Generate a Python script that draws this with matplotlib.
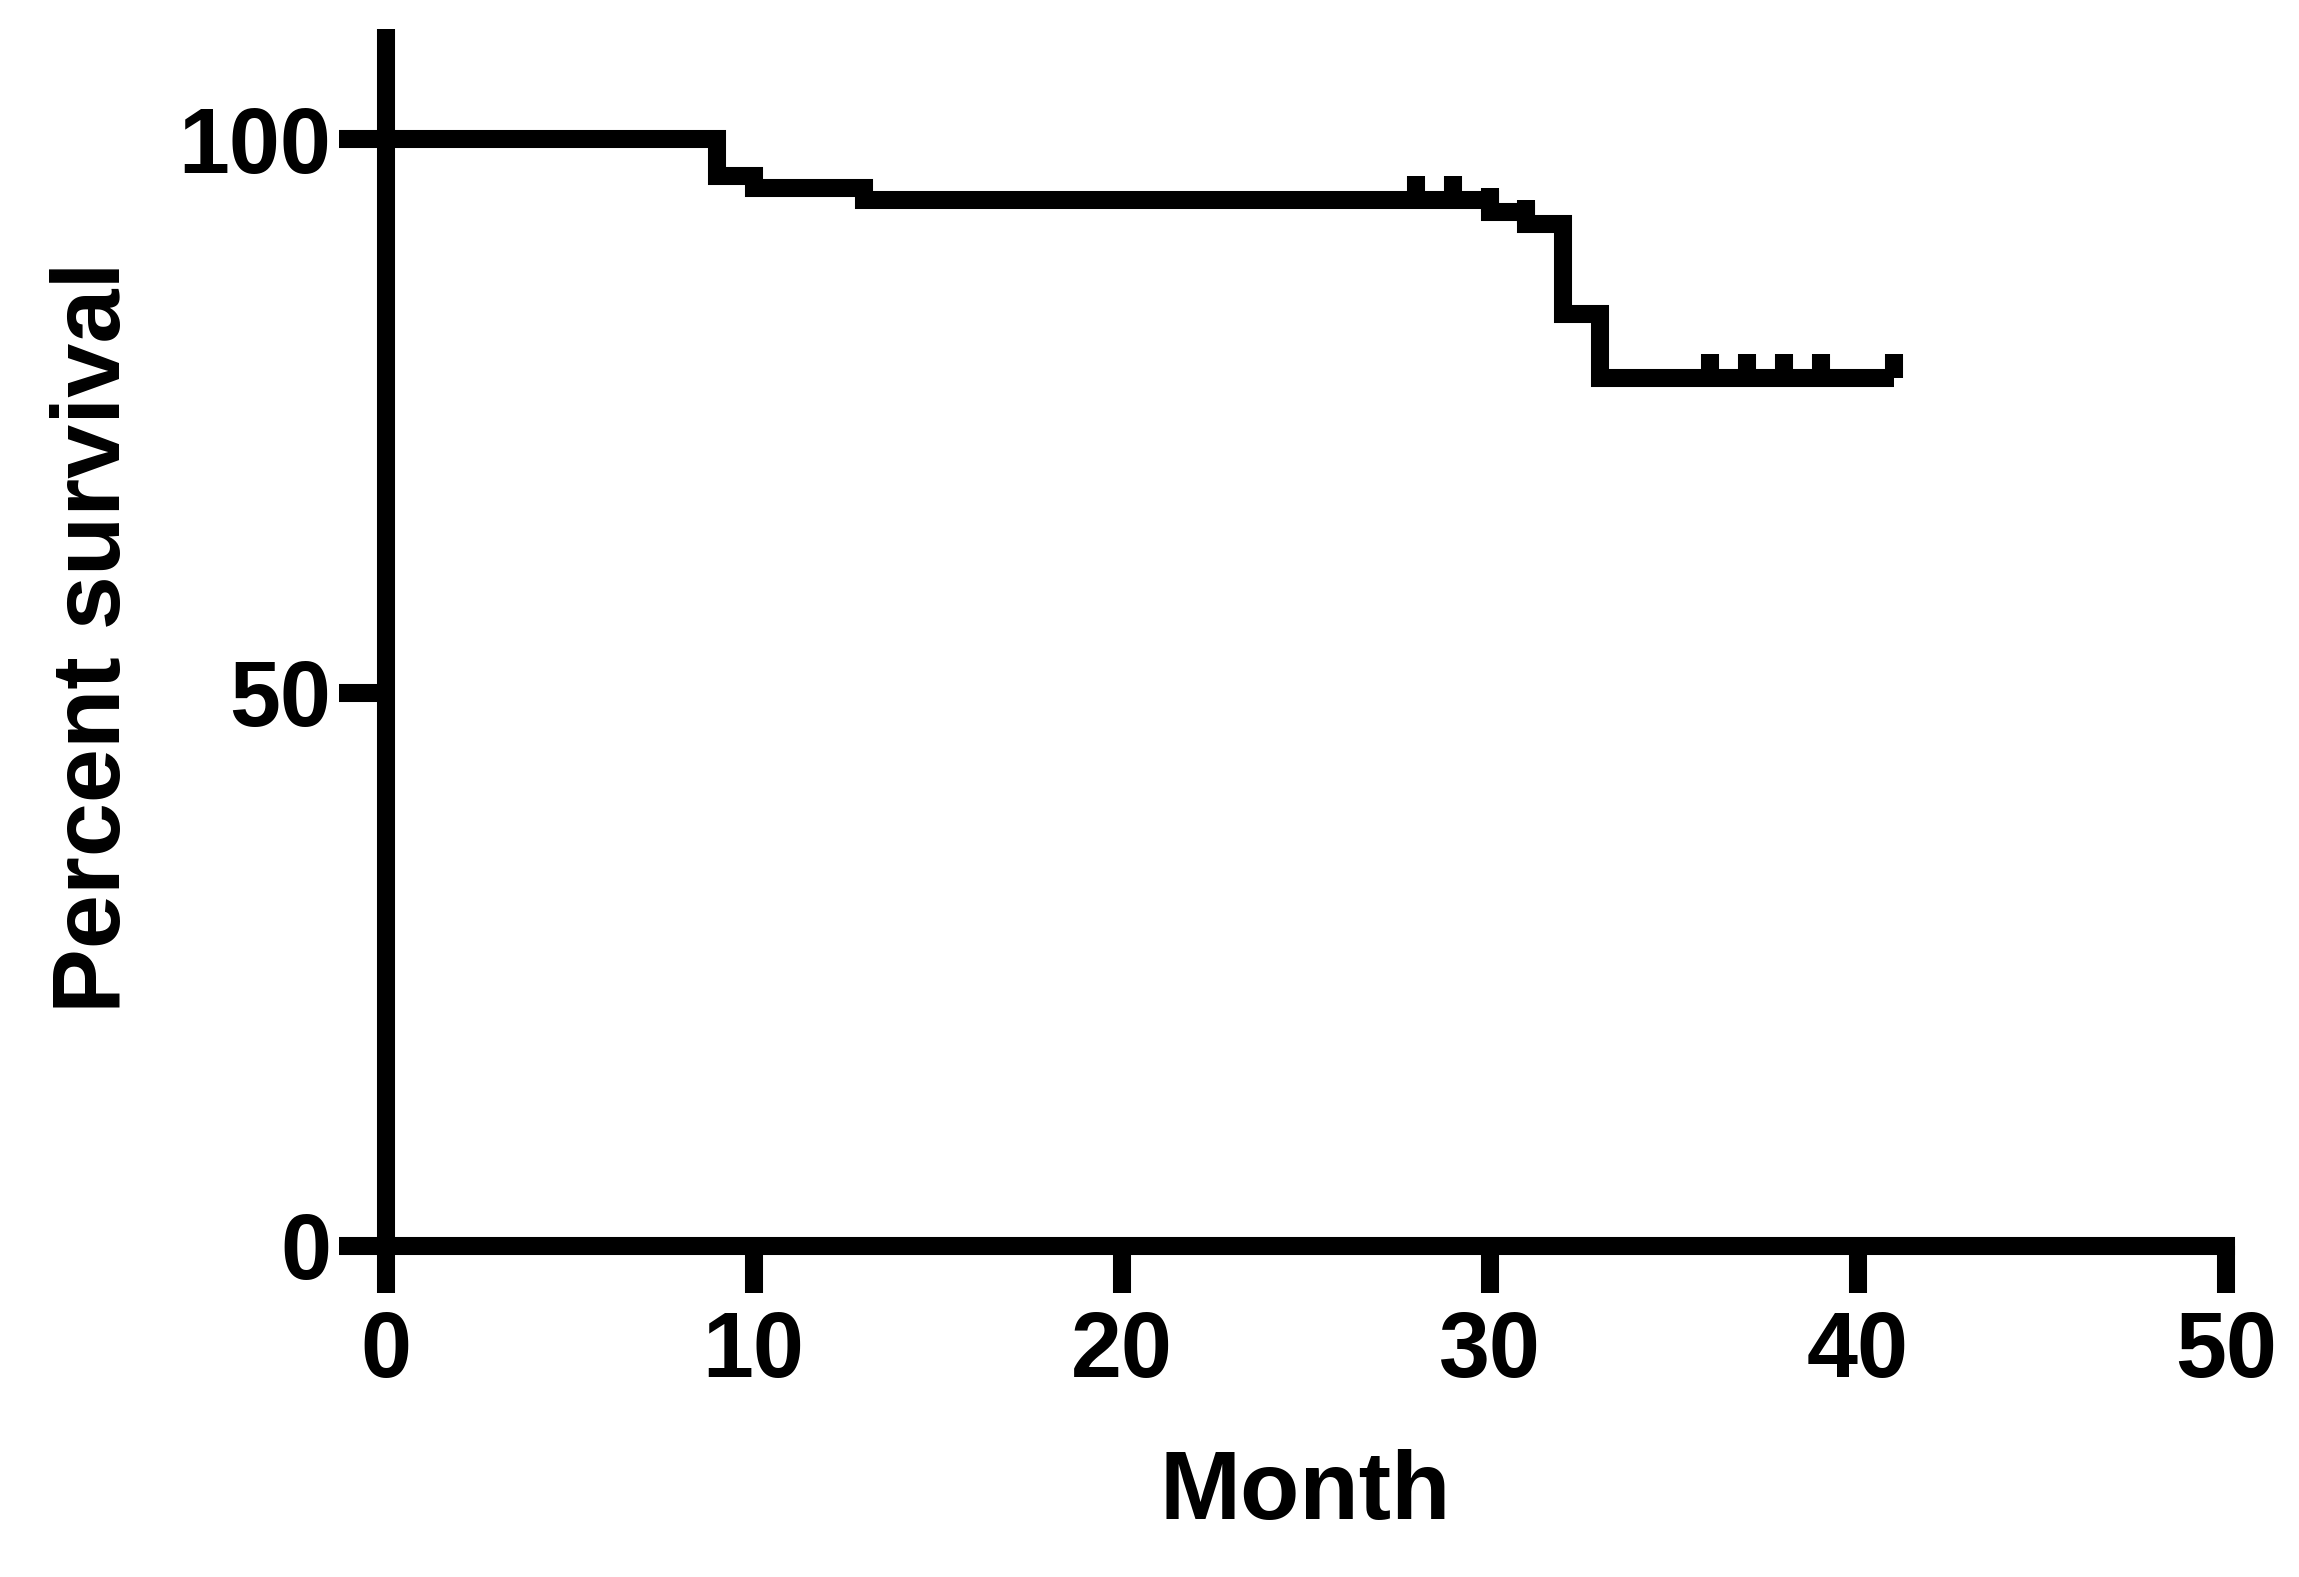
import numpy as np
import matplotlib.pyplot as plt
from matplotlib.path import Path

plt.rcParams['font.family'] = ['Liberation Sans', 'DejaVu Sans']
plt.rcParams['font.weight'] = 'bold'

# Kaplan-Meier steps (month, percent survival after the step)
event_months = [0, 9, 10, 13, 30, 31, 32, 33, 41]
survival = [100, 96.7, 95.6, 94.5, 93.4, 92.3, 84.2, 78.4, 78.4]
# censored observations
censor_months = [28, 29, 30, 31, 36, 37, 38, 39, 41]

x_ticks = [0, 10, 20, 30, 40, 50]
y_ticks = [0, 50, 100]

lw = 13

fig = plt.figure(figsize=(22.99, 15.77), dpi=100)
ax = fig.add_axes([0.1677, 0.2099, 0.8004, 0.7720])

ax.step(event_months, survival, where='post', color='black', lw=lw,
        solid_joinstyle='miter', solid_capstyle='butt', clip_on=False, zorder=3)

# censor ticks sit on the curve level at that month
idx = np.searchsorted(event_months, censor_months, side='right') - 1
censor_levels = [survival[i] for i in idx]
tick_mark = Path([(0, 0), (0, 1)])
ax.plot(censor_months, censor_levels, ls='none', marker=tick_mark,
        markersize=35, markeredgewidth=lw, color='black', clip_on=False, zorder=3)

ax.set_xlim(0, 50)
ax.set_ylim(0, 110)
ax.set_xticks(x_ticks)
ax.set_yticks(y_ticks)

for side in ['top', 'right']:
    ax.spines[side].set_visible(False)
ax.spines['left'].set_linewidth(lw)
ax.spines['left'].set_capstyle('butt')
ax.spines['bottom'].set_linewidth(lw)
ax.spines['bottom'].set_capstyle('projecting')

ax.tick_params(axis='both', direction='out', length=34, width=lw,
               labelsize=66)
ax.tick_params(axis='x', pad=12)
ax.tick_params(axis='y', pad=5)

ax.set_xlabel('Month', fontsize=70, fontweight='bold', labelpad=38)
ax.set_ylabel('Percent survival', fontsize=70, fontweight='bold', labelpad=28)

fig.savefig('out.png', dpi=100)
